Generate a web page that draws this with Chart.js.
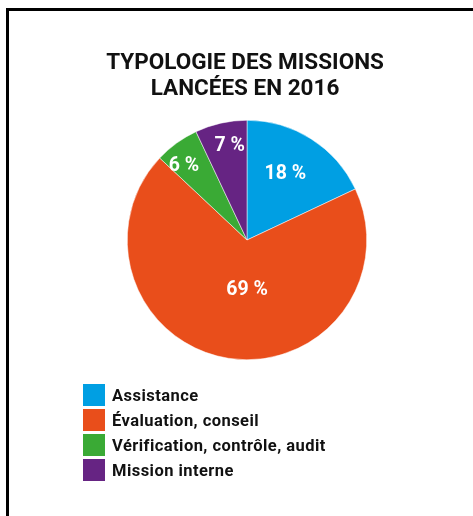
<!DOCTYPE html>
<html><head><meta charset="utf-8">
<script src="https://cdn.jsdelivr.net/npm/chart.js@4/dist/chart.umd.min.js"></script>
<style>
html,body{margin:0;padding:0;background:#fff;}
#wrap{position:relative;width:473px;height:516px;overflow:hidden;}
#frame{position:absolute;left:6px;top:8px;width:480px;height:520px;border-left:3px solid #000;border-top:3px solid #000;}
#title{position:absolute;left:0;width:490px;top:48px;text-align:center;font-family:Roboto,sans-serif;font-weight:700;font-size:22.5px;line-height:26px;color:#111;}
#c{position:absolute;left:0;top:0;}
#legend{position:absolute;left:83px;top:384px;font-family:Roboto,sans-serif;font-weight:700;font-size:16.5px;letter-spacing:0.45px;color:#111;}
.item{display:flex;align-items:center;height:22px;margin-bottom:3px;}
.sw{width:22px;height:22px;margin-right:7px;}
</style></head>
<body><div id="wrap"><div id="frame"></div>
<canvas id="c" width="473" height="516"></canvas>
<div id="title">TYPOLOGIE DES MISSIONS<br>LANCÉES EN 2016</div>
<div id="legend"></div></div>
<script>
const categories = ["Assistance", "Évaluation, conseil", "Vérification, contrôle, audit", "Mission interne"];
const values = [18, 69, 6, 7];
const valueLabels = ["18 %", "69 %", "6 %", "7 %"];
const colors = ["#009FE3", "#E94E1B", "#3AAA35", "#662483"];

const lg = document.getElementById('legend');
categories.forEach((c,i)=>{
  const d=document.createElement('div');d.className='item';
  d.innerHTML='<span class="sw" style="background:'+colors[i]+'"></span><span>'+c+'</span>';
  lg.appendChild(d);
});

const labelPlugin = {
  id:'sliceLabels',
  afterDatasetsDraw(chart, args, opts){
    const ctx=chart.ctx; const meta=chart.getDatasetMeta(0);
    ctx.save();
    ctx.fillStyle='#fff';ctx.font='700 19.5px Roboto, sans-serif';
    ctx.textAlign='center';ctx.textBaseline='middle';
    meta.data.forEach((arc,i)=>{
      const p=arc.getProps(['x','y','startAngle','endAngle','outerRadius']);
      const a=(p.startAngle+p.endAngle)/2 + (opts.angleShift[i]||0);
      const r=p.outerRadius*opts.radial[i];
      ctx.fillText(valueLabels[i], p.x+Math.cos(a)*r, p.y+Math.sin(a)*r + 1.5);
    });
    ctx.restore();
  }
};

new Chart(document.getElementById('c'),{
  type:'pie',
  data:{labels:categories,datasets:[{data:values,backgroundColor:colors,borderWidth:0.5,borderColor:'#ffffff'}]},
  options:{
    responsive:false,animation:false,
    layout:{padding:{left:127,right:106,top:120,bottom:156}},
    plugins:{legend:{display:false},tooltip:{enabled:false},
      sliceLabels:{radial:[0.65,0.41,0.82,0.81],angleShift:[-0.05,-0.16,-0.07,0.04]}}
  },
  plugins:[labelPlugin]
});
</script></body></html>
